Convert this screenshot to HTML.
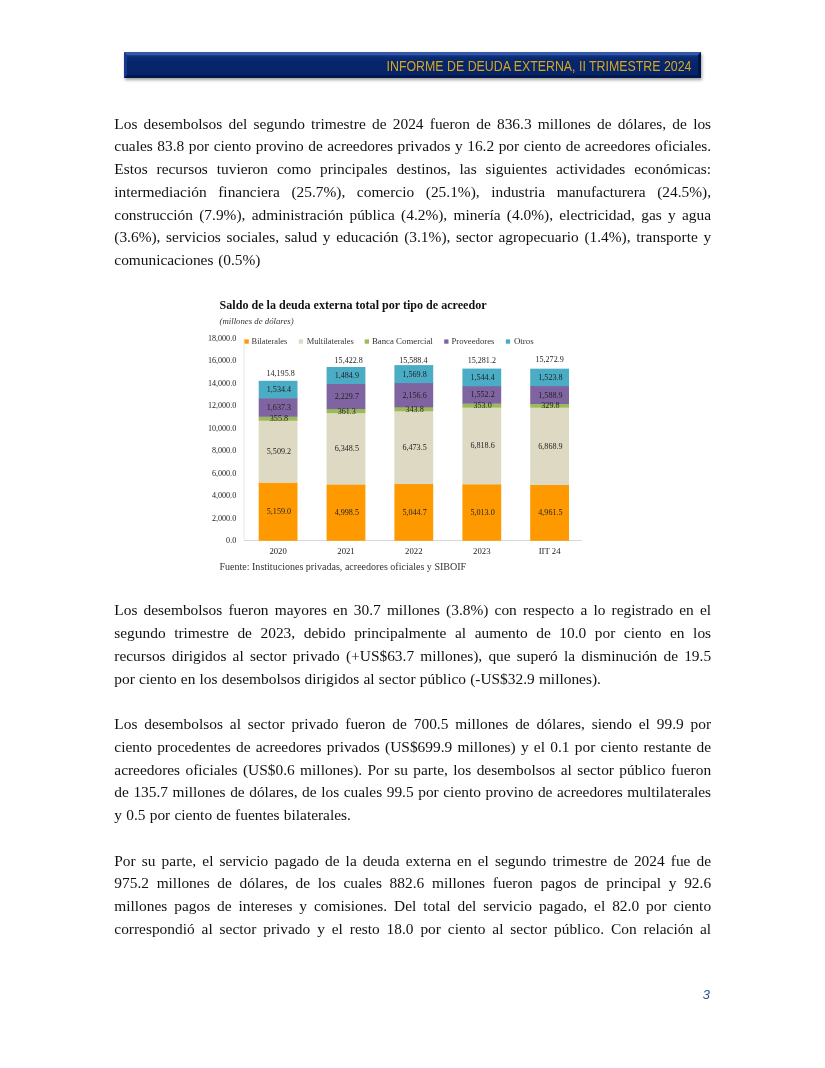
<!DOCTYPE html>
<html><head><meta charset="utf-8">
<style>
html,body{margin:0;padding:0;background:#fff;}
body{width:825px;height:1068px;position:relative;overflow:hidden;font-family:"Liberation Serif",serif;color:#111;}
.banner{position:absolute;box-sizing:border-box;left:124.2px;top:52px;width:577.3px;height:25.7px;background:linear-gradient(#1c4092 0,#0a2c74 2px,#06256a 8px,#06246a 100%);border-style:solid;border-width:3px 3.5px 3px 3.5px;border-color:#3458a8 #031546 #041850 #17398c;box-shadow:1px 2px 3px rgba(0,0,0,.38);}
.banner span{position:absolute;right:7.1px;top:0.8px;font-family:"Liberation Sans",sans-serif;font-size:14.5px;line-height:20px;color:#d6a71c;white-space:nowrap;transform:scaleX(0.853);transform-origin:100% 50%;}
.l{position:absolute;left:114.3px;width:596.8px;height:22px;line-height:22px;font-size:15.4px;text-align:justify;text-align-last:justify;white-space:nowrap;}
.l.e{text-align:left;text-align-last:left;}
.pn{position:absolute;left:702.8px;top:986.7px;font-family:"Liberation Sans",sans-serif;font-style:italic;font-size:12.9px;color:#2c5294;}
svg{position:absolute;left:0;top:0;}
</style></head><body>
<div class="banner"><span>INFORME DE DEUDA EXTERNA, II TRIMESTRE 2024</span></div>

<div class="l" style="top:112.70px">Los desembolsos del segundo trimestre de 2024 fueron de 836.3 millones de dólares, de los</div>
<div class="l" style="top:135.45px">cuales 83.8 por ciento provino de acreedores privados y 16.2 por ciento de acreedores oficiales.</div>
<div class="l" style="top:158.20px">Estos recursos tuvieron como principales destinos, las siguientes actividades económicas:</div>
<div class="l" style="top:180.95px">intermediación financiera (25.7%), comercio (25.1%), industria manufacturera (24.5%),</div>
<div class="l" style="top:203.70px">construcción (7.9%), administración pública (4.2%), minería (4.0%), electricidad, gas y agua</div>
<div class="l" style="top:226.45px">(3.6%), servicios sociales, salud y educación (3.1%), sector agropecuario (1.4%), transporte y</div>
<div class="l" style="width:146.2px;top:249.20px">comunicaciones (0.5%)</div>

<div class="l" style="top:599.25px">Los desembolsos fueron mayores en 30.7 millones (3.8%) con respecto a lo registrado en el</div>
<div class="l" style="top:622.00px">segundo trimestre de 2023, debido principalmente al aumento de 10.0 por ciento en los</div>
<div class="l" style="top:644.75px">recursos dirigidos al sector privado (+US$63.7 millones), que superó la disminución de 19.5</div>
<div class="l" style="width:486.6px;top:667.50px">por ciento en los desembolsos dirigidos al sector público (-US$32.9 millones).</div>

<div class="l" style="top:713.00px">Los desembolsos al sector privado fueron de 700.5 millones de dólares, siendo el 99.9 por</div>
<div class="l" style="top:735.75px">ciento procedentes de acreedores privados (US$699.9 millones) y el 0.1 por ciento restante de</div>
<div class="l" style="top:758.50px">acreedores oficiales (US$0.6 millones). Por su parte, los desembolsos al sector público fueron</div>
<div class="l" style="top:781.25px">de 135.7 millones de dólares, de los cuales 99.5 por ciento provino de acreedores multilaterales</div>
<div class="l" style="width:236.6px;top:804.00px">y 0.5 por ciento de fuentes bilaterales.</div>

<div class="l" style="top:849.50px">Por su parte, el servicio pagado de la deuda externa en el segundo trimestre de 2024 fue de</div>
<div class="l" style="top:872.25px">975.2 millones de dólares, de los cuales 882.6 millones fueron pagos de principal y 92.6</div>
<div class="l" style="top:895.00px">millones pagos de intereses y comisiones. Del total del servicio pagado, el 82.0 por ciento</div>
<div class="l" style="top:917.75px">correspondió al sector privado y el resto 18.0 por ciento al sector público. Con relación al</div>

<div class="pn">3</div>
<div style="position:absolute;left:0;top:0;width:1px;height:1px;background:#fff;mix-blend-mode:multiply"></div>
<!--CS--><svg width="825" height="1068" viewBox="0 0 825 1068" font-family="Liberation Serif, serif" fill="#222">
<text x="219.6" y="309.3" font-size="11.8" font-weight="bold" fill="#111" textLength="267" lengthAdjust="spacingAndGlyphs">Saldo de la deuda externa total por tipo de acreedor</text>
<text x="219.6" y="323.6" font-size="9.2" font-style="italic" fill="#333" textLength="74" lengthAdjust="spacingAndGlyphs">(millones de dólares)</text>
<line x1="244" y1="338" x2="244" y2="540.5" stroke="#e0e0e0" stroke-width="0.8"/>
<line x1="244" y1="540.5" x2="582" y2="540.5" stroke="#d4d4d4" stroke-width="0.9"/>
<text x="236.2" y="543.1" font-size="8.7" text-anchor="end" textLength="10.1" lengthAdjust="spacingAndGlyphs" fill="#222">0.0</text>
<text x="236.2" y="520.6" font-size="8.7" text-anchor="end" textLength="24.3" lengthAdjust="spacingAndGlyphs" fill="#222">2,000.0</text>
<text x="236.2" y="498.1" font-size="8.7" text-anchor="end" textLength="24.3" lengthAdjust="spacingAndGlyphs" fill="#222">4,000.0</text>
<text x="236.2" y="475.6" font-size="8.7" text-anchor="end" textLength="24.3" lengthAdjust="spacingAndGlyphs" fill="#222">6,000.0</text>
<text x="236.2" y="453.1" font-size="8.7" text-anchor="end" textLength="24.3" lengthAdjust="spacingAndGlyphs" fill="#222">8,000.0</text>
<text x="236.2" y="430.6" font-size="8.7" text-anchor="end" textLength="28.3" lengthAdjust="spacingAndGlyphs" fill="#222">10,000.0</text>
<text x="236.2" y="408.1" font-size="8.7" text-anchor="end" textLength="28.3" lengthAdjust="spacingAndGlyphs" fill="#222">12,000.0</text>
<text x="236.2" y="385.6" font-size="8.7" text-anchor="end" textLength="28.3" lengthAdjust="spacingAndGlyphs" fill="#222">14,000.0</text>
<text x="236.2" y="363.1" font-size="8.7" text-anchor="end" textLength="28.3" lengthAdjust="spacingAndGlyphs" fill="#222">16,000.0</text>
<text x="236.2" y="340.6" font-size="8.7" text-anchor="end" textLength="28.3" lengthAdjust="spacingAndGlyphs" fill="#222">18,000.0</text>
<rect x="244.5" y="339.4" width="4.3" height="4.3" fill="#FF9900"/>
<text x="251.6" y="344.2" font-size="8.7" textLength="35.7" lengthAdjust="spacingAndGlyphs" fill="#333">Bilaterales</text>
<rect x="298.8" y="339.4" width="4.3" height="4.3" fill="#DDD9C3"/>
<text x="306.7" y="344.2" font-size="8.7" textLength="47" lengthAdjust="spacingAndGlyphs" fill="#333">Multilaterales</text>
<rect x="364.7" y="339.4" width="4.3" height="4.3" fill="#9BBB59"/>
<text x="371.9" y="344.2" font-size="8.7" textLength="60.9" lengthAdjust="spacingAndGlyphs" fill="#333">Banca Comercial</text>
<rect x="444.2" y="339.4" width="4.3" height="4.3" fill="#8064A2"/>
<text x="451.4" y="344.2" font-size="8.7" textLength="43.1" lengthAdjust="spacingAndGlyphs" fill="#333">Proveedores</text>
<rect x="505.8" y="339.4" width="4.3" height="4.3" fill="#4BACC6"/>
<text x="513.9" y="344.2" font-size="8.7" textLength="19.7" lengthAdjust="spacingAndGlyphs" fill="#333">Otros</text>
<rect x="258.7" y="482.46" width="38.8" height="58.34" fill="#FF9900"/>
<rect x="258.7" y="420.48" width="38.8" height="62.28" fill="#DDD9C3"/>
<rect x="258.7" y="416.48" width="38.8" height="4.30" fill="#9BBB59"/>
<rect x="258.7" y="398.06" width="38.8" height="18.72" fill="#8064A2"/>
<rect x="258.7" y="380.80" width="38.8" height="17.56" fill="#4BACC6"/>
<rect x="326.6" y="484.27" width="38.8" height="56.53" fill="#FF9900"/>
<rect x="326.6" y="412.85" width="38.8" height="71.72" fill="#DDD9C3"/>
<rect x="326.6" y="408.78" width="38.8" height="4.36" fill="#9BBB59"/>
<rect x="326.6" y="383.70" width="38.8" height="25.38" fill="#8064A2"/>
<rect x="326.6" y="366.99" width="38.8" height="17.01" fill="#4BACC6"/>
<rect x="394.4" y="483.75" width="38.8" height="57.05" fill="#FF9900"/>
<rect x="394.4" y="410.92" width="38.8" height="73.13" fill="#DDD9C3"/>
<rect x="394.4" y="407.05" width="38.8" height="4.17" fill="#9BBB59"/>
<rect x="394.4" y="382.79" width="38.8" height="24.56" fill="#8064A2"/>
<rect x="394.4" y="365.13" width="38.8" height="17.96" fill="#4BACC6"/>
<rect x="462.4" y="484.10" width="38.8" height="56.70" fill="#FF9900"/>
<rect x="462.4" y="407.39" width="38.8" height="77.01" fill="#DDD9C3"/>
<rect x="462.4" y="403.42" width="38.8" height="4.27" fill="#9BBB59"/>
<rect x="462.4" y="385.96" width="38.8" height="17.76" fill="#8064A2"/>
<rect x="462.4" y="368.59" width="38.8" height="17.67" fill="#4BACC6"/>
<rect x="530.2" y="484.68" width="38.8" height="56.12" fill="#FF9900"/>
<rect x="530.2" y="407.41" width="38.8" height="77.58" fill="#DDD9C3"/>
<rect x="530.2" y="403.70" width="38.8" height="4.01" fill="#9BBB59"/>
<rect x="530.2" y="385.82" width="38.8" height="18.18" fill="#8064A2"/>
<rect x="530.2" y="368.68" width="38.8" height="17.44" fill="#4BACC6"/>
<text x="278.9" y="514.2" font-size="8.7" text-anchor="middle" textLength="24.3" lengthAdjust="spacingAndGlyphs" fill="#222">5,159.0</text>
<text x="278.9" y="454.2" font-size="8.7" text-anchor="middle" textLength="24.3" lengthAdjust="spacingAndGlyphs" fill="#222">5,509.2</text>
<text x="278.9" y="421.2" font-size="8.7" text-anchor="middle" textLength="18.2" lengthAdjust="spacingAndGlyphs" fill="#222">355.8</text>
<text x="278.9" y="410.0" font-size="8.7" text-anchor="middle" textLength="24.3" lengthAdjust="spacingAndGlyphs" fill="#222">1,637.3</text>
<text x="278.9" y="392.1" font-size="8.7" text-anchor="middle" textLength="24.3" lengthAdjust="spacingAndGlyphs" fill="#222">1,534.4</text>
<text x="280.6" y="376.2" font-size="8.7" text-anchor="middle" textLength="28.3" lengthAdjust="spacingAndGlyphs" fill="#222">14,195.8</text>
<text x="278.1" y="554" font-size="8.7" text-anchor="middle">2020</text>
<text x="346.8" y="515.1" font-size="8.7" text-anchor="middle" textLength="24.3" lengthAdjust="spacingAndGlyphs" fill="#222">4,998.5</text>
<text x="346.8" y="451.3" font-size="8.7" text-anchor="middle" textLength="24.3" lengthAdjust="spacingAndGlyphs" fill="#222">6,348.5</text>
<text x="346.8" y="413.5" font-size="8.7" text-anchor="middle" textLength="18.2" lengthAdjust="spacingAndGlyphs" fill="#222">361.3</text>
<text x="346.8" y="398.9" font-size="8.7" text-anchor="middle" textLength="24.3" lengthAdjust="spacingAndGlyphs" fill="#222">2,229.7</text>
<text x="346.8" y="378.0" font-size="8.7" text-anchor="middle" textLength="24.3" lengthAdjust="spacingAndGlyphs" fill="#222">1,484.9</text>
<text x="348.7" y="362.6" font-size="8.7" text-anchor="middle" textLength="28.3" lengthAdjust="spacingAndGlyphs" fill="#222">15,422.8</text>
<text x="346.0" y="554" font-size="8.7" text-anchor="middle">2021</text>
<text x="414.6" y="514.8" font-size="8.7" text-anchor="middle" textLength="24.3" lengthAdjust="spacingAndGlyphs" fill="#222">5,044.7</text>
<text x="414.6" y="450.0" font-size="8.7" text-anchor="middle" textLength="24.3" lengthAdjust="spacingAndGlyphs" fill="#222">6,473.5</text>
<text x="414.6" y="411.7" font-size="8.7" text-anchor="middle" textLength="18.2" lengthAdjust="spacingAndGlyphs" fill="#222">343.8</text>
<text x="414.6" y="397.6" font-size="8.7" text-anchor="middle" textLength="24.3" lengthAdjust="spacingAndGlyphs" fill="#222">2,156.6</text>
<text x="414.6" y="376.7" font-size="8.7" text-anchor="middle" textLength="24.3" lengthAdjust="spacingAndGlyphs" fill="#222">1,569.8</text>
<text x="413.3" y="362.5" font-size="8.7" text-anchor="middle" textLength="28.3" lengthAdjust="spacingAndGlyphs" fill="#222">15,588.4</text>
<text x="413.8" y="554" font-size="8.7" text-anchor="middle">2022</text>
<text x="482.6" y="515.0" font-size="8.7" text-anchor="middle" textLength="24.3" lengthAdjust="spacingAndGlyphs" fill="#222">5,013.0</text>
<text x="482.6" y="448.4" font-size="8.7" text-anchor="middle" textLength="24.3" lengthAdjust="spacingAndGlyphs" fill="#222">6,818.6</text>
<text x="482.6" y="408.1" font-size="8.7" text-anchor="middle" textLength="18.2" lengthAdjust="spacingAndGlyphs" fill="#222">353.0</text>
<text x="482.6" y="397.4" font-size="8.7" text-anchor="middle" textLength="24.3" lengthAdjust="spacingAndGlyphs" fill="#222">1,552.2</text>
<text x="482.6" y="380.0" font-size="8.7" text-anchor="middle" textLength="24.3" lengthAdjust="spacingAndGlyphs" fill="#222">1,544.4</text>
<text x="481.8" y="362.5" font-size="8.7" text-anchor="middle" textLength="28.3" lengthAdjust="spacingAndGlyphs" fill="#222">15,281.2</text>
<text x="481.8" y="554" font-size="8.7" text-anchor="middle">2023</text>
<text x="550.4" y="515.3" font-size="8.7" text-anchor="middle" textLength="24.3" lengthAdjust="spacingAndGlyphs" fill="#222">4,961.5</text>
<text x="550.4" y="448.7" font-size="8.7" text-anchor="middle" textLength="24.3" lengthAdjust="spacingAndGlyphs" fill="#222">6,868.9</text>
<text x="550.4" y="408.3" font-size="8.7" text-anchor="middle" textLength="18.2" lengthAdjust="spacingAndGlyphs" fill="#222">329.8</text>
<text x="550.4" y="397.5" font-size="8.7" text-anchor="middle" textLength="24.3" lengthAdjust="spacingAndGlyphs" fill="#222">1,588.9</text>
<text x="550.4" y="380.0" font-size="8.7" text-anchor="middle" textLength="24.3" lengthAdjust="spacingAndGlyphs" fill="#222">1,523.8</text>
<text x="549.6" y="362.2" font-size="8.7" text-anchor="middle" textLength="28.3" lengthAdjust="spacingAndGlyphs" fill="#222">15,272.9</text>
<text x="549.6" y="554" font-size="8.7" text-anchor="middle">IIT 24</text>
<text x="219.4" y="570" font-size="9.8" textLength="246.8" lengthAdjust="spacingAndGlyphs" fill="#333">Fuente: Instituciones privadas, acreedores oficiales y SIBOIF</text>
</svg><!--CE-->
</body></html>
